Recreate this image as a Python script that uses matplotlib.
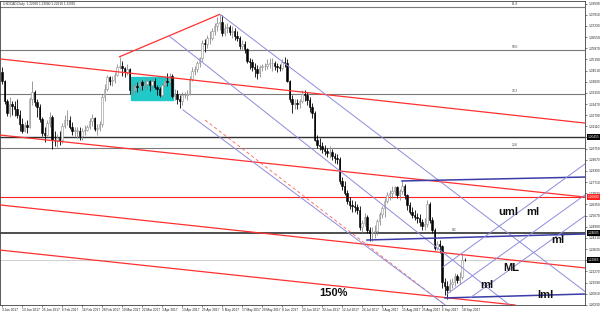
import matplotlib
matplotlib.use("Agg")
import matplotlib.pyplot as plt
from matplotlib.patches import Rectangle
from matplotlib.transforms import blended_transform_factory

plt.rcParams['font.family'] = ['Liberation Sans', 'DejaVu Sans']

# USDCAD daily candles, one per weekday from 3 Jan 2017 to 19 Sep 2017
opens = [
    1.3440, 1.3385, 1.3265, 1.3195, 1.3245, 1.3235, 1.3215, 1.3180, 1.3125, 1.3085,
    1.3120, 1.3110, 1.3280, 1.3320, 1.3260, 1.3230, 1.3155, 1.3070, 1.3060, 1.3130,
    1.3170, 1.3030, 1.3025, 1.3040, 1.3030, 1.3115, 1.3150, 1.3150, 1.3110, 1.3085,
    1.3085, 1.3085, 1.3050, 1.3080, 1.3090, 1.3105, 1.3145, 1.3160, 1.3095, 1.3100,
    1.3125, 1.3290, 1.3340, 1.3410, 1.3385, 1.3395, 1.3425, 1.3470, 1.3480, 1.3465,
    1.3445, 1.3460, 1.3330, 1.3335, 1.3355, 1.3350, 1.3380, 1.3365, 1.3370, 1.3385,
    1.3360, 1.3390, 1.3350, 1.3340, 1.3305, 1.3360, 1.3390, 1.3380, 1.3420, 1.3295,
    1.3310, 1.3280, 1.3265, 1.3300, 1.3305, 1.3310, 1.3400, 1.3450, 1.3460, 1.3495,
    1.3530, 1.3620, 1.3610, 1.3650, 1.3650, 1.3690, 1.3720, 1.3740, 1.3745, 1.3680,
    1.3710, 1.3715, 1.3685, 1.3690, 1.3660, 1.3650, 1.3600, 1.3610, 1.3580, 1.3510,
    1.3505, 1.3475, 1.3460, 1.3435, 1.3470, 1.3480, 1.3480, 1.3490, 1.3495, 1.3495,
    1.3480, 1.3475, 1.3465, 1.3505, 1.3495, 1.3390, 1.3275, 1.3245, 1.3255, 1.3245,
    1.3265, 1.3310, 1.3305, 1.3270, 1.3230, 1.3190, 1.3030, 1.3000, 1.2990, 1.2970,
    1.2960, 1.2950, 1.2955, 1.2930, 1.2920, 1.2910, 1.2775, 1.2745, 1.2705, 1.2655,
    1.2630, 1.2625, 1.2620, 1.2600, 1.2500, 1.2520, 1.2560, 1.2480, 1.2460, 1.2465,
    1.2475, 1.2535, 1.2575, 1.2615, 1.2655, 1.2695, 1.2705, 1.2715, 1.2740, 1.2690,
    1.2715, 1.2745, 1.2690, 1.2630, 1.2590, 1.2570, 1.2560, 1.2550, 1.2530, 1.2505,
    1.2515, 1.2640, 1.2540, 1.2480, 1.2370, 1.2395, 1.2380, 1.2160, 1.2140, 1.2115,
    1.2150, 1.2165, 1.2200, 1.2175, 1.2190, 1.2299,
]
highs = [
    1.3475, 1.3395, 1.3280, 1.3290, 1.3265, 1.3265, 1.3280, 1.3210, 1.3160, 1.3140,
    1.3150, 1.3290, 1.3390, 1.3330, 1.3280, 1.3245, 1.3170, 1.3105, 1.3150, 1.3200,
    1.3180, 1.3080, 1.3065, 1.3080, 1.3130, 1.3180, 1.3210, 1.3175, 1.3135, 1.3110,
    1.3110, 1.3110, 1.3100, 1.3120, 1.3120, 1.3160, 1.3185, 1.3165, 1.3125, 1.3145,
    1.3310, 1.3370, 1.3425, 1.3420, 1.3415, 1.3440, 1.3490, 1.3535, 1.3510, 1.3475,
    1.3490, 1.3465, 1.3370, 1.3375, 1.3380, 1.3400, 1.3395, 1.3395, 1.3410, 1.3395,
    1.3405, 1.3405, 1.3365, 1.3350, 1.3375, 1.3420, 1.3435, 1.3435, 1.3430, 1.3340,
    1.3330, 1.3300, 1.3320, 1.3320, 1.3330, 1.3420, 1.3470, 1.3480, 1.3510, 1.3535,
    1.3640, 1.3645, 1.3665, 1.3690, 1.3710, 1.3740, 1.3775, 1.3793, 1.3790, 1.3735,
    1.3740, 1.3730, 1.3720, 1.3710, 1.3690, 1.3660, 1.3640, 1.3630, 1.3590, 1.3525,
    1.3520, 1.3500, 1.3485, 1.3485, 1.3490, 1.3500, 1.3520, 1.3525, 1.3525, 1.3510,
    1.3500, 1.3490, 1.3520, 1.3535, 1.3520, 1.3395, 1.3300, 1.3280, 1.3280, 1.3280,
    1.3335, 1.3330, 1.3320, 1.3290, 1.3255, 1.3205, 1.3060, 1.3040, 1.3015, 1.2995,
    1.2980, 1.2990, 1.2970, 1.2950, 1.2940, 1.2925, 1.2800, 1.2775, 1.2720, 1.2680,
    1.2660, 1.2655, 1.2640, 1.2625, 1.2540, 1.2585, 1.2570, 1.2500, 1.2500, 1.2510,
    1.2545, 1.2590, 1.2625, 1.2675, 1.2710, 1.2725, 1.2745, 1.2750, 1.2750, 1.2730,
    1.2778, 1.2760, 1.2700, 1.2650, 1.2620, 1.2600, 1.2580, 1.2575, 1.2545, 1.2550,
    1.2662, 1.2650, 1.2560, 1.2490, 1.2410, 1.2420, 1.2390, 1.2185, 1.2170, 1.2180,
    1.2185, 1.2215, 1.2210, 1.2225, 1.2330, 1.2308,
]
lows = [
    1.3370, 1.3250, 1.3175, 1.3165, 1.3180, 1.3175, 1.3160, 1.3080, 1.3070, 1.3075,
    1.3070, 1.3100, 1.3240, 1.3235, 1.3170, 1.3140, 1.3055, 1.3015, 1.3050, 1.3110,
    1.2970, 1.2990, 1.2985, 1.2995, 1.3010, 1.3100, 1.3120, 1.3095, 1.3060, 1.3050,
    1.3040, 1.3030, 1.3030, 1.3060, 1.3085, 1.3095, 1.3115, 1.3080, 1.3060, 1.3085,
    1.3110, 1.3265, 1.3325, 1.3365, 1.3355, 1.3375, 1.3415, 1.3460, 1.3420, 1.3410,
    1.3425, 1.3310, 1.3300, 1.3310, 1.3320, 1.3320, 1.3335, 1.3345, 1.3340, 1.3325,
    1.3340, 1.3340, 1.3305, 1.3290, 1.3290, 1.3350, 1.3355, 1.3360, 1.3285, 1.3270,
    1.3250, 1.3225, 1.3240, 1.3285, 1.3270, 1.3300, 1.3390, 1.3425, 1.3445, 1.3470,
    1.3510, 1.3565, 1.3590, 1.3615, 1.3640, 1.3670, 1.3690, 1.3700, 1.3660, 1.3660,
    1.3680, 1.3665, 1.3650, 1.3640, 1.3630, 1.3580, 1.3575, 1.3560, 1.3495, 1.3460,
    1.3450, 1.3410, 1.3400, 1.3410, 1.3450, 1.3455, 1.3460, 1.3465, 1.3450, 1.3455,
    1.3440, 1.3450, 1.3455, 1.3470, 1.3380, 1.3260, 1.3195, 1.3215, 1.3215, 1.3220,
    1.3255, 1.3265, 1.3240, 1.3200, 1.3160, 1.3020, 1.2980, 1.2965, 1.2950, 1.2935,
    1.2925, 1.2915, 1.2905, 1.2890, 1.2880, 1.2760, 1.2720, 1.2690, 1.2640, 1.2610,
    1.2590, 1.2590, 1.2575, 1.2480, 1.2465, 1.2505, 1.2460, 1.2415, 1.2415, 1.2430,
    1.2450, 1.2510, 1.2555, 1.2560, 1.2645, 1.2660, 1.2675, 1.2690, 1.2675, 1.2665,
    1.2700, 1.2670, 1.2600, 1.2575, 1.2555, 1.2540, 1.2520, 1.2505, 1.2480, 1.2480,
    1.2500, 1.2520, 1.2460, 1.2355, 1.2360, 1.2340, 1.2125, 1.2080, 1.2061, 1.2100,
    1.2125, 1.2140, 1.2155, 1.2150, 1.2180, 1.2291,
]
closes = opens[1:] + [1.2297]

date_labels = ['3 Jan 2017', '13 Jan 2017', '25 Jan 2017', '6 Feb 2017', '16 Feb 2017',
               '28 Feb 2017', '10 Mar 2017', '22 Mar 2017', '3 Apr 2017', '13 Apr 2017',
               '25 Apr 2017', '5 May 2017', '17 May 2017', '29 May 2017', '8 Jun 2017',
               '20 Jun 2017', '30 Jun 2017', '12 Jul 2017', '24 Jul 2017', '3 Aug 2017',
               '15 Aug 2017', '25 Aug 2017', '6 Sep 2017', '18 Sep 2017']
date_ticks = [0, 8, 16, 24, 32, 40, 48, 56, 64, 72, 80, 88, 96, 104, 112,
              120, 128, 136, 144, 152, 160, 168, 176, 184]
price_labels = ['1.20230', '1.20910', '1.21590', '1.22270', '1.22950', '1.23630', '1.24310',
                '1.24990', '1.25670', '1.26350', '1.27030', '1.27710', '1.28390', '1.29070',
                '1.29750', '1.30430', '1.31110', '1.31790', '1.32470', '1.33150', '1.33830',
                '1.34510', '1.35190', '1.35870', '1.36550', '1.37230', '1.37910', '1.38590']

fib_names = ['61.8', '50.0', '38.2', '23.6', '0.0']
fib_levels = [1.3838, 1.3576, 1.3308, 1.2979, 1.2461]
fib_label_x = [204, 204, 204, 204, 180]

black_level = 1.3046
red_level = 1.2680
bid_level = 1.2297

# box around the March consolidation (bar index, price)
box_start, box_end = 51.6, 68.4
box_low, box_high = 1.3272, 1.3412

# drawn trend lines: (bar, price) -> (bar, price)
red_lines = [
    ((47.0, 1.3535), (87.0, 1.3793)),
    ((-0.8, 1.3522), (233.2, 1.3131)),
    ((-0.8, 1.3058), (233.2, 1.2680)),
    ((-0.8, 1.2632), (233.2, 1.2248)),
    ((-0.8, 1.2357), (205.2, 1.2022)),
]
red_dashed = ((81.2, 1.3150), (177.2, 1.2022))
blue_lines = [
    ((87.6, 1.3790), (233.2, 1.2104)),
    ((66.8, 1.3662), (203.0, 1.2022)),
    ((72.4, 1.3211), (177.3, 1.2022)),
    ((146.0, 1.2418), (233.2, 1.2455)),
    ((160.0, 1.2778), (233.2, 1.2802)),
    ((177.2, 1.2065), (233.2, 1.2089)),
    ((176.4, 1.2254), (233.2, 1.2882)),
    ((178.0, 1.2089), (233.2, 1.2693)),
    ((187.2, 1.2065), (233.2, 1.2565)),
]

labels = [('uml', 202.5, 1.2590), ('ml', 212.5, 1.2590), ('ml', 222.5, 1.2420),
          ('ML', 203.5, 1.2245), ('ml', 194.0, 1.2145), ('lml', 217.5, 1.2080),
          ('150%', 132.5, 1.2098)]

fig = plt.figure(figsize=(6, 3.13), dpi=100)
ax = fig.add_axes([0.0, 8 / 313, 585 / 600, 304 / 313])
ax.set_xlim(-0.8, 233.2)
ax.set_ylim(1.2022, 1.3875)

for lvl in fib_levels[:-1]:
    ax.axhline(lvl, color='#7a7a7a', lw=0.8, zorder=1)
ax.axhline(fib_levels[-1], color='#303030', lw=1.2, zorder=1)
ax.axhline(black_level, color='#303030', lw=1.0, zorder=1)
ax.axhline(bid_level, color='#c8c8c8', lw=0.6, zorder=1)
ax.axhline(red_level, color='#ff2020', lw=0.8, zorder=1)
for name, lvl, bx in zip(fib_names, fib_levels, fib_label_x):
    ax.text(bx, lvl + 0.0008, name, fontsize=2.3, color='#404040', va='bottom')

ax.add_patch(Rectangle((box_start, box_low), box_end - box_start, box_high - box_low,
                       facecolor='#20c8c8', edgecolor='#20c8c8', zorder=2))

idx = list(range(len(closes)))
bull = [c >= o for o, c in zip(opens, closes)]
wick_cols = ['#8c8c8c' if b else 'black' for b in bull]
body_cols = ['white' if b else 'black' for b in bull]
ax.vlines(idx, lows, highs, colors=wick_cols, lw=0.6, zorder=3)
ax.bar(idx, [max(abs(c - o), 0.00008) for o, c in zip(opens, closes)],
       bottom=[min(o, c) for o, c in zip(opens, closes)], width=0.6,
       color=body_cols, edgecolor=wick_cols, linewidth=0.4, zorder=3)

for (x0, y0), (x1, y1) in red_lines:
    ax.plot([x0, x1], [y0, y1], color='#ff3030', lw=0.9, zorder=4)
(x0, y0), (x1, y1) = red_dashed
ax.plot([x0, x1], [y0, y1], color='#ff6060', lw=0.6, ls=(0, (4, 3)), zorder=4)
for i, ((x0, y0), (x1, y1)) in enumerate(blue_lines):
    dark = i in (3, 4, 5)
    ax.plot([x0, x1], [y0, y1], color='#3c3ca8' if dark else '#8c8cdc',
            lw=1.1 if dark else 0.7, zorder=4)

for txt, bx, by in labels:
    ax.text(bx, by, txt, fontsize=8, fontweight='bold', color='#101010',
            ha='center', va='center', zorder=6)

ax.text(0.005, 0.997, 'USDCAD,Daily  1.22990 1.23080 1.22910 1.22965',
        transform=ax.transAxes, fontsize=2.3, va='top', color='#303030')

ax.yaxis.tick_right()
ax.set_yticks([float(p) for p in price_labels])
ax.set_yticklabels(price_labels)
ax.set_xticks(date_ticks)
ax.set_xticklabels(date_labels, ha='left')
ax.tick_params(axis='both', labelsize=2.3, length=1.5, width=0.4, pad=1, colors='#202020')
for sp in ax.spines.values():
    sp.set_color('#404040')
    sp.set_linewidth(0.6)

tr = blended_transform_factory(ax.transAxes, ax.transData)
for lvl, txt, col in [(black_level, '1.30455', 'black'), (fib_levels[-1], '1.24605', 'black'),
                      (bid_level, '1.22965', 'black'), (red_level, '1.26800', '#ff2020')]:
    ax.text(1.004, lvl, txt, transform=tr, fontsize=2.3, color='white', va='center',
            ha='left', bbox=dict(facecolor=col, edgecolor='none', pad=0.5), clip_on=False)

fig.savefig('out.png', dpi=100, facecolor='white')
